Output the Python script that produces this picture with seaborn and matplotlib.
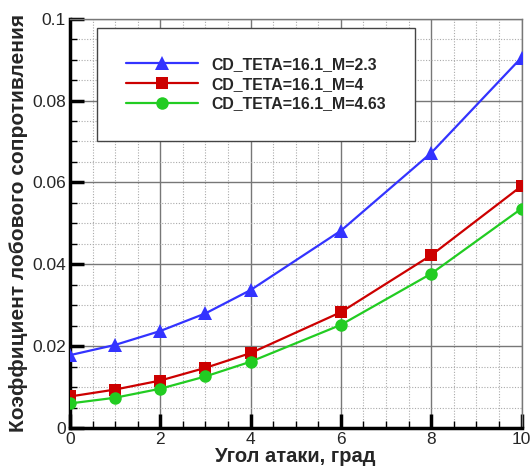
import matplotlib
matplotlib.use("Agg")
import matplotlib.pyplot as plt
import seaborn as sns
import pandas as pd
from matplotlib.ticker import MultipleLocator, FuncFormatter

angles = [0, 1, 2, 3, 4, 6, 8, 10]
cd_m23 = [0.0178, 0.0203, 0.0237, 0.0280, 0.0337, 0.0482, 0.0672, 0.0905]
cd_m4 = [0.0077, 0.0094, 0.0116, 0.0147, 0.0183, 0.0283, 0.0422, 0.0591]
cd_m463 = [0.0060, 0.0074, 0.0096, 0.0126, 0.0162, 0.0252, 0.0377, 0.0536]
labels = ["CD_TETA=16.1_M=2.3", "CD_TETA=16.1_M=4", "CD_TETA=16.1_M=4.63"]
colors = ["#3333ff", "#cc0000", "#22cc22"]
markers = ["^", "s", "o"]
msizes = [10, 8.5, 9]
xlabel = "Угол атаки, град"
ylabel = "Коэффициент лобового сопротивления"

sns.set_theme(style="white")
plt.rcParams['font.family'] = ['Liberation Sans', 'DejaVu Sans']

fig = plt.figure(figsize=(5.3, 4.66), dpi=100)
ax = fig.add_axes([0.132, 0.0815, 0.852, 0.8785])

for vals, lab, c, m, ms in zip([cd_m23, cd_m4, cd_m463], labels, colors, markers, msizes):
    df = pd.DataFrame({"x": angles, "y": vals})
    sns.lineplot(data=df, x="x", y="y", ax=ax, color=c, marker=m, markersize=ms,
                 markeredgewidth=0, linewidth=1.6, label=lab, zorder=3)

ax.set_xlim(0, 10)
ax.set_ylim(0, 0.1)
ax.xaxis.set_major_locator(MultipleLocator(2))
ax.xaxis.set_minor_locator(MultipleLocator(0.5))
ax.yaxis.set_major_locator(MultipleLocator(0.02))
ax.yaxis.set_minor_locator(MultipleLocator(0.005))
fmt = FuncFormatter(lambda v, p: "%g" % round(v, 6))
ax.xaxis.set_major_formatter(fmt)
ax.yaxis.set_major_formatter(fmt)

ax.grid(which="major", color="#777777", linewidth=1.0, linestyle="-", zorder=0)
ax.grid(which="minor", color="#aaaaaa", linewidth=0.8, linestyle=(0, (1, 1.5)), zorder=0)
ax.set_axisbelow(True)

ax.tick_params(which="major", direction="in", length=10, width=2.5, color="black",
               labelsize=12.5, pad=3, bottom=True, left=True)
ax.tick_params(which="minor", direction="in", length=5, width=1, color="black",
               bottom=True, left=True)
for s in ["left", "bottom"]:
    ax.spines[s].set_color("black")
    ax.spines[s].set_linewidth(2.5)
for s in ["top", "right"]:
    ax.spines[s].set_color("#777777")
    ax.spines[s].set_linewidth(1.0)

ax.set_xlabel(xlabel, fontsize=14.5, fontweight="bold", labelpad=0)
ax.set_ylabel(ylabel, fontsize=15, fontweight="bold", labelpad=3)

leg = ax.legend(loc="upper left", bbox_to_anchor=(0.06, 0.978), fancybox=False,
                frameon=True, edgecolor="#444444", framealpha=1,
                prop={"weight": "bold", "size": 11.4}, handlelength=4.5,
                borderpad=1.85, labelspacing=0.3, handletextpad=0.85, borderaxespad=0)
leg.get_frame().set_linewidth(1.0)

fig.savefig("out.png", dpi=100)
